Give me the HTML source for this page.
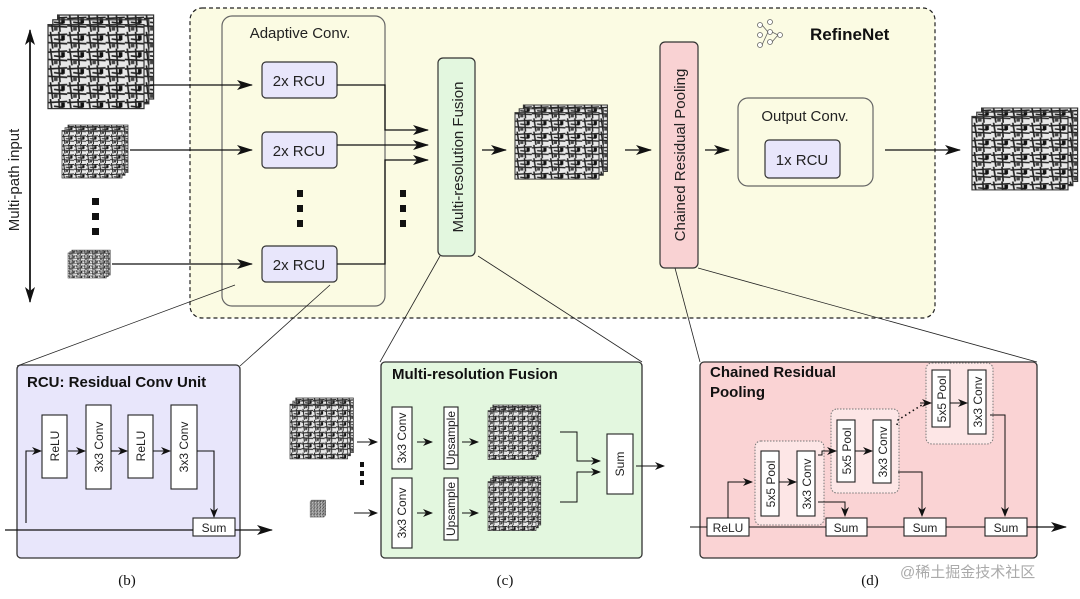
<!DOCTYPE html>
<html><head><meta charset="utf-8"><style>
html,body{margin:0;padding:0;background:#fff;}
svg{display:block;font-family:"Liberation Sans","DejaVu Sans",sans-serif;}
</style></head><body>
<svg width="1080" height="599" viewBox="0 0 1080 599" xmlns="http://www.w3.org/2000/svg">
<defs>
<marker id="a" markerWidth="10" markerHeight="8" refX="9" refY="4" orient="auto" markerUnits="userSpaceOnUse"><path d="M0,0 L10,4 L0,8 L3,4 Z" fill="#111"/></marker>
<marker id="b" markerWidth="16" markerHeight="10" refX="15" refY="5" orient="auto" markerUnits="userSpaceOnUse"><path d="M0,0 L16,5 L0,10 L4,5 Z" fill="#111"/></marker>
<pattern id="tex" width="16" height="14" patternUnits="userSpaceOnUse">
<rect width="16" height="14" fill="#e8e8e8"/>
<path d="M0,3 L16,2 M2,0 L4,14 M9,0 L10,14 M0,9 L16,10 M5,6 L13,7" stroke="#222" stroke-width="1.4"/>
<rect x="11" y="3" width="3" height="4" fill="#111"/>
<rect x="5" y="10" width="3" height="3" fill="#444"/>
</pattern>
<g id="img"><rect x="8" y="0" width="80" height="70" fill="url(#tex)" stroke="#333"/><rect x="4" y="4" width="80" height="70" fill="url(#tex)" stroke="#333"/><rect x="0" y="8" width="80" height="70" fill="url(#tex)" stroke="#333"/></g>
</defs>

<rect x="190" y="8" width="745" height="310" rx="12" fill="#fbfbe3" stroke="#222" stroke-dasharray="4,3" stroke-width="1.2"/>
<rect x="222" y="16" width="163" height="290" rx="10" fill="none" stroke="#666" stroke-width="1.2"/>
<text x="300" y="38" font-size="15" text-anchor="middle" fill="#222">Adaptive Conv.</text>
<g fill="#e8e6fb" stroke="#333" stroke-width="1.2">
<rect x="262" y="62" width="75" height="36" rx="4"/>
<rect x="262" y="132" width="75" height="36" rx="4"/>
<rect x="262" y="246" width="75" height="36" rx="4"/>
</g>
<g font-size="15" text-anchor="middle" fill="#222">
<text x="299" y="86">2x RCU</text><text x="299" y="156">2x RCU</text><text x="299" y="270">2x RCU</text>
</g>
<g fill="#111"><rect x="297" y="190" width="6" height="7"/><rect x="297" y="205" width="6" height="7"/><rect x="297" y="220" width="6" height="7"/>
<rect x="400" y="190" width="6" height="7"/><rect x="400" y="205" width="6" height="7"/><rect x="400" y="220" width="6" height="7"/>
<rect x="92" y="198" width="7" height="7"/><rect x="92" y="213" width="7" height="7"/><rect x="92" y="228" width="7" height="7"/></g>

<g stroke="#666" fill="#fff" stroke-width="0.8"><circle cx="760" cy="25" r="2.5"/><circle cx="760" cy="35" r="2.5"/><circle cx="760" cy="45" r="2.5"/><circle cx="770" cy="22" r="2.5"/><circle cx="770" cy="32" r="2.5"/><circle cx="770" cy="42" r="2.5"/><circle cx="780" cy="35" r="2.5"/><line x1="762" y1="25" x2="768" y2="32"/><line x1="762" y1="45" x2="768" y2="32"/><line x1="772" y1="32" x2="778" y2="35"/><line x1="772" y1="42" x2="778" y2="35"/></g>
<text x="810" y="40" font-size="17" font-weight="bold" fill="#111">RefineNet</text>

<rect x="438" y="58" width="37" height="198" rx="5" fill="#e3f7df" stroke="#333" stroke-width="1.2"/>
<text transform="translate(463,157) rotate(-90)" font-size="15" text-anchor="middle" fill="#222">Multi-resolution Fusion</text>
<rect x="660" y="42" width="38" height="226" rx="5" fill="#f9d2d3" stroke="#333" stroke-width="1.2"/>
<text transform="translate(685,155) rotate(-90)" font-size="15" text-anchor="middle" fill="#222">Chained Residual Pooling</text>
<rect x="738" y="98" width="135" height="88" rx="10" fill="#fbfbe3" stroke="#666" stroke-width="1.2"/>
<text x="805" y="121" font-size="15" text-anchor="middle" fill="#222">Output Conv.</text>
<rect x="765" y="140" width="75" height="38" rx="4" fill="#e8e6fb" stroke="#333" stroke-width="1.2"/>
<text x="802" y="165" font-size="15" text-anchor="middle" fill="#222">1x RCU</text>

<use href="#img" transform="translate(48,15) scale(1.2,1.2)"/>
<use href="#img" transform="translate(62,125) scale(0.75,0.68)"/>
<use href="#img" transform="translate(68,250) scale(0.48,0.36)"/>
<use href="#img" transform="translate(515,105) scale(1.05,0.95)"/>
<use href="#img" transform="translate(972,108) scale(1.2,1.05)"/>

<line x1="30" y1="300" x2="30" y2="30" stroke="#111" stroke-width="1.5" marker-end="url(#b)"/>
<line x1="30" y1="40" x2="30" y2="302" stroke="#111" stroke-width="1.5" marker-end="url(#b)"/>
<text transform="translate(19,180) rotate(-90)" font-size="15" text-anchor="middle" fill="#222">Multi-path input</text>

<g stroke="#111" stroke-width="1.3" fill="none" marker-end="url(#b)">
<line x1="150" y1="85" x2="252" y2="85"/>
<line x1="130" y1="150" x2="252" y2="150"/>
<line x1="112" y1="264" x2="252" y2="264"/>
<polyline points="337,85 385,85 385,130 428,130"/>
<line x1="337" y1="145" x2="428" y2="145"/>
<polyline points="337,264 385,264 385,160 428,160"/>
<line x1="482" y1="150" x2="506" y2="150"/>
<line x1="625" y1="150" x2="651" y2="150"/>
<line x1="705" y1="150" x2="729" y2="150"/>
<line x1="885" y1="150" x2="960" y2="150"/>
</g>

<g stroke="#222" stroke-width="0.8">
<line x1="235" y1="285" x2="17" y2="366"/><line x1="330" y1="285" x2="240" y2="366"/>
<line x1="440" y1="256" x2="380" y2="362"/><line x1="478" y1="256" x2="642" y2="362"/>
<line x1="675" y1="268" x2="700" y2="362"/><line x1="698" y1="268" x2="1037" y2="362"/>
</g>

<rect x="17" y="365" width="223" height="193" rx="4" fill="#e8e6fb" stroke="#333" stroke-width="1.3"/>
<text x="27" y="387" font-size="15" font-weight="bold" fill="#111">RCU: Residual Conv Unit</text>
<g fill="#fff" stroke="#222" stroke-width="1.1">
<rect x="42" y="415" width="25" height="63"/><rect x="86" y="405" width="25" height="84"/>
<rect x="128" y="415" width="25" height="63"/><rect x="171" y="405" width="26" height="84"/>
<rect x="193" y="518" width="42" height="18"/>
</g>
<g font-size="12" fill="#222" text-anchor="middle">
<text transform="translate(59,446) rotate(-90)">ReLU</text><text transform="translate(103,447) rotate(-90)">3x3 Conv</text>
<text transform="translate(145,446) rotate(-90)">ReLU</text><text transform="translate(188,447) rotate(-90)">3x3 Conv</text>
<text x="214" y="532">Sum</text>
</g>
<g stroke="#111" stroke-width="1.1" fill="none" marker-end="url(#a)">
<polyline points="26,523 26,451 41,451"/>
<line x1="68" y1="451" x2="85" y2="451"/><line x1="111" y1="451" x2="127" y2="451"/><line x1="153" y1="451" x2="170" y2="451"/>
<polyline points="197,451 214,451 214,517"/>
</g>
<line x1="5" y1="530" x2="193" y2="530" stroke="#111" stroke-width="1.2"/>
<line x1="235" y1="530" x2="272" y2="530" stroke="#111" stroke-width="1.2" marker-end="url(#b)"/>

<rect x="381" y="362" width="261" height="196" rx="4" fill="#e3f7df" stroke="#333" stroke-width="1.3"/>
<text x="392" y="379" font-size="15" font-weight="bold" fill="#111">Multi-resolution Fusion</text>
<g fill="#fff" stroke="#222" stroke-width="1.1">
<rect x="392" y="407" width="20" height="62"/><rect x="392" y="478" width="20" height="70"/>
<rect x="444" y="407" width="14" height="62"/><rect x="444" y="478" width="14" height="62"/>
<rect x="607" y="434" width="26" height="60"/>
</g>
<g font-size="12" fill="#222" text-anchor="middle">
<text transform="translate(406,438) rotate(-90)">3x3 Conv</text><text transform="translate(406,513) rotate(-90)">3x3 Conv</text>
<text transform="translate(455,438) rotate(-90)">Upsample</text><text transform="translate(455,509) rotate(-90)">Upsample</text>
<text transform="translate(624,464) rotate(-90)">Sum</text>
</g>
<use href="#img" transform="translate(488,405) scale(0.6,0.7)"/>
<use href="#img" transform="translate(488,476) scale(0.6,0.7)"/>
<use href="#img" transform="translate(290,398) scale(0.72,0.78)"/>
<use href="#img" transform="translate(310,500) scale(0.18,0.22)"/>
<g fill="#111"><rect x="360" y="462" width="4" height="5"/><rect x="360" y="471" width="4" height="5"/><rect x="360" y="480" width="4" height="5"/></g>
<g stroke="#111" stroke-width="1" fill="none" marker-end="url(#a)">
<line x1="357" y1="442" x2="377" y2="442"/><line x1="354" y1="513" x2="377" y2="513"/>
<line x1="417" y1="442" x2="432" y2="442"/><line x1="417" y1="513" x2="432" y2="513"/>
<line x1="462" y1="442" x2="478" y2="442"/><line x1="462" y1="513" x2="478" y2="513"/>
<polyline points="560,432 577,432 577,461 600,461"/>
<polyline points="560,502 577,502 577,472 600,472"/>
<line x1="636" y1="466" x2="664" y2="466"/>
</g>

<rect x="700" y="362" width="337" height="196" rx="4" fill="#fad3d4" stroke="#333" stroke-width="1.3"/>
<text x="710" y="377" font-size="15" font-weight="bold" fill="#111">Chained Residual</text>
<text x="710" y="397" font-size="15" font-weight="bold" fill="#111">Pooling</text>
<g fill="#fde6e6" stroke="#777" stroke-width="1" stroke-dasharray="1.5,1.5">
<rect x="755" y="441" width="69" height="84" rx="6"/>
<rect x="831" y="409" width="68" height="84" rx="6"/>
<rect x="926" y="363" width="67" height="81" rx="6"/>
</g>
<g fill="#fff" stroke="#222" stroke-width="1.1">
<rect x="761" y="451" width="18" height="65"/><rect x="797" y="451" width="18" height="65"/>
<rect x="837" y="420" width="18" height="62"/><rect x="873" y="420" width="18" height="63"/>
<rect x="932" y="370" width="18" height="57"/><rect x="968" y="370" width="18" height="64"/>
<rect x="707" y="518" width="42" height="18"/><rect x="826" y="518" width="41" height="18"/>
<rect x="904" y="518" width="42" height="18"/><rect x="985" y="518" width="42" height="18"/>
</g>
<g font-size="12" fill="#222" text-anchor="middle">
<text transform="translate(775,484) rotate(-90)">5x5 Pool</text><text transform="translate(811,484) rotate(-90)">3x3 Conv</text>
<text transform="translate(851,451) rotate(-90)">5x5 Pool</text><text transform="translate(887,452) rotate(-90)">3x3 Conv</text>
<text transform="translate(946,399) rotate(-90)">5x5 Pool</text><text transform="translate(982,402) rotate(-90)">3x3 Conv</text>
<text x="728" y="532">ReLU</text><text x="846" y="532">Sum</text><text x="925" y="532">Sum</text><text x="1006" y="532">Sum</text>
</g>
<line x1="690" y1="527" x2="707" y2="527" stroke="#111" stroke-width="1.1"/>
<line x1="749" y1="527" x2="826" y2="527" stroke="#111" stroke-width="1.1"/>
<line x1="867" y1="527" x2="904" y2="527" stroke="#111" stroke-width="1.1"/>
<line x1="946" y1="527" x2="985" y2="527" stroke="#111" stroke-width="1.1"/>
<line x1="1027" y1="527" x2="1066" y2="527" stroke="#111" stroke-width="1.2" marker-end="url(#b)"/>
<g stroke="#111" stroke-width="1" fill="none" marker-end="url(#a)">
<polyline points="728,518 728,482 752,482"/>
<line x1="779" y1="482" x2="796" y2="482"/>
<polyline points="818,502 845,502 845,516"/>
<polyline points="818,455 822,455 822,451 836,451"/>
<line x1="855" y1="451" x2="872" y2="451"/>
<polyline points="898,472 922,472 922,516"/>
<line x1="950" y1="403" x2="967" y2="403"/>
<polyline points="990,415 1005,415 1005,516"/>
</g>
<polyline points="897,425 898,420 925,403" fill="none" stroke="#111" stroke-width="1.6" stroke-dasharray="1.5,3"/>
<line x1="920" y1="403" x2="931" y2="403" stroke="#111" stroke-width="1" marker-end="url(#a)"/>

<g font-family="Liberation Serif,serif" font-size="15" fill="#111" text-anchor="middle">
<text x="127" y="585">(b)</text><text x="505" y="585">(c)</text><text x="870" y="585">(d)</text>
</g>
<text x="900" y="577" font-size="15" fill="#aaa" font-family="Liberation Sans,Noto Sans CJK SC,sans-serif">@稀土掘金技术社区</text>
</svg>
</body></html>
